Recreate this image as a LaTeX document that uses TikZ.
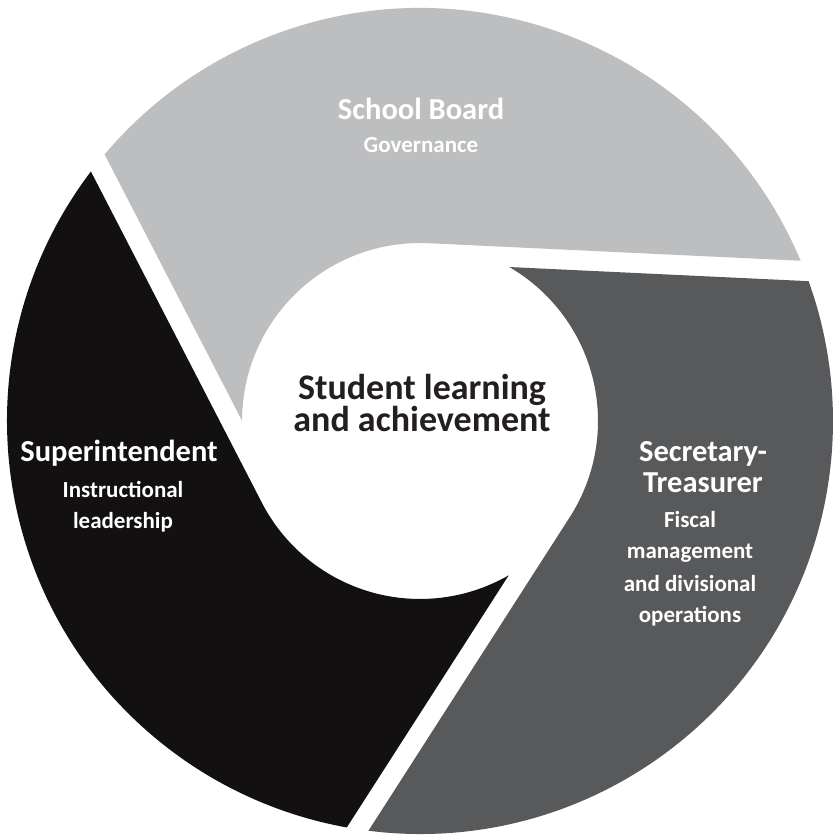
\documentclass[tikz,border=0pt]{standalone}
\usepackage{fontspec}
\setmainfont{Carlito}
\definecolor{lgray}{HTML}{BCBEC0}
\definecolor{dgray}{HTML}{58595B}
\definecolor{blk}{HTML}{131011}
\definecolor{txt}{HTML}{231F20}
\begin{document}
\begin{tikzpicture}[x=1pt,y=1pt,
  ttl/.style={anchor=base,inner sep=0pt,text=white,font=\fontsize{30.5}{32}\selectfont\bfseries},
  sub/.style={anchor=base,inner sep=0pt,text=white,font=\fontsize{23}{25}\selectfont\bfseries},
  ctr/.style={anchor=base,inner sep=0pt,align=center,text=txt,font=\fontsize{36}{29}\selectfont\bfseries}]
\useasboundingbox (0,0) rectangle (833,836);
\fill[white] (0,0) rectangle (833,836);
\def\Ri{178}\def\Ro{413}
\def\A{64.47}\def\Bin{27.42}\def\Bout{67.51}
\begin{scope}[shift={(420,415)}]
  % School Board (light gray)
  \def\p{87.3}
  \fill[lgray] (\p:\Ri) -- ({\p-\A}:\Ro)
    arc[start angle={\p-\A}, end angle={\p+120-\Bout}, radius=\Ro]
    -- ({\p+120-\Bin}:\Ri)
    arc[start angle={\p+120-\Bin}, end angle=\p, radius=\Ri] -- cycle;
  % Superintendent (black)
  \def\p{207.3}
  \fill[blk] (\p:\Ri) -- ({\p-\A}:\Ro)
    arc[start angle={\p-\A}, end angle={\p+120-\Bout}, radius=\Ro]
    -- ({\p+120-\Bin}:\Ri)
    arc[start angle={\p+120-\Bin}, end angle=\p, radius=\Ri] -- cycle;
  % Secretary-Treasurer (dark gray)
  \def\p{327.3}
  \fill[dgray] (\p:\Ri) -- ({\p-\A}:\Ro)
    arc[start angle={\p-\A}, end angle={\p+120-\Bout}, radius=\Ro]
    -- ({\p+120-\Bin}:\Ri)
    arc[start angle={\p+120-\Bin}, end angle=\p, radius=\Ri] -- cycle;
\end{scope}
\node[ttl] (board) at (421,716) {School Board};
\node[sub] (gov) at (421,683) {Governance};
\node[ctr] (core) at (422,404) {Student learning\\and achievement};
\node[ttl] (sup) at (119,374) {Superintendent};
\node[sub] (sup1) at (123,338) {Instructional};
\node[sub] (sup2) at (123,307) {leadership};
\node[ttl] (sec1) at (703,374) {Secretary-};
\node[ttl] (sec2) at (703,343) {Treasurer};
\node[sub] (f1) at (690,308) {Fiscal};
\node[sub] (f2) at (690,277) {management};
\node[sub] (f3) at (690,244) {and divisional};
\node[sub] (f4) at (690,213) {operations};
\end{tikzpicture}
\end{document}
